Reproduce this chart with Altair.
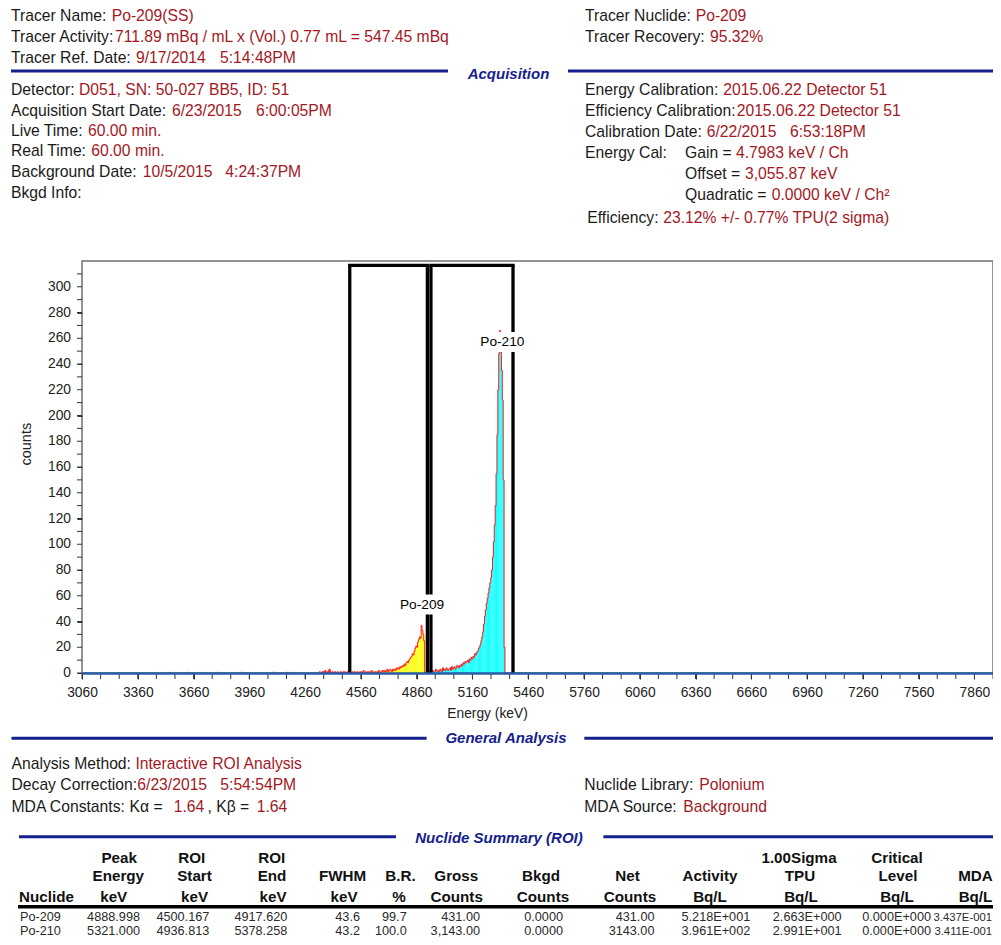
import altair as alt
import pandas as pd

GAIN = 4.7983       # keV / channel
OFFSET = 3055.87    # keV

# isolated background counts (channel, counts)
bkg_channels = [99, 120, 153, 179, 214, 216, 230, 237]
bkg_counts = [1, 1, 1, 1, 1, 1, 1, 1]

# contiguous counts, starting at channel 266
first_channel = 266
pre_roi_counts = [0, 1, 0, 0, 1, 1, 0, 2, 1, 0,
                  1, 2, 3, 1, 0, 1, 0, 0, 1, 0,
                  0, 1, 0, 0, 1, 0, 0, 1, 0, 1,
                  0, 0, 1, 0, 1]
po209_counts = [1, 0, 0, 1, 0, 1, 0, 0, 1, 0,
                0, 1, 0, 1, 0, 2, 0, 1, 1, 0,
                1, 0, 1, 0, 2, 1, 0, 1, 1, 0,
                1, 0, 2, 1, 0, 1, 2, 1, 2, 1,
                2, 1, 3, 1, 2, 3, 2, 1, 3, 2,
                3, 2, 4, 3, 4, 3, 5, 4, 5, 6,
                5, 7, 6, 8, 9, 8, 10, 11, 12, 13,
                15, 14, 17, 19, 21, 20, 24, 26, 28, 27,
                37, 33, 30, 25, 0, 0, 0, 0]
gap_counts = [1, 2, 0]
po210_counts = [2, 1, 2, 1, 1, 3, 2, 1, 2, 1,
                3, 2, 1, 4, 2, 3, 2, 4, 3, 2,
                3, 4, 2, 5, 3, 4, 5, 3, 4, 6,
                5, 4, 6, 5, 7, 6, 8, 7, 9, 8,
                9, 10, 8, 11, 10, 12, 11, 13, 12, 15,
                14, 16, 17, 19,
                20, 22, 25, 28, 32, 38, 44, 49, 54, 58,
                62, 66, 70, 74, 80, 90, 102, 115, 130, 155,
                185, 220, 248, 266, 252, 235, 212, 150, 20,
                0, 0, 0, 0, 0, 0, 0, 0, 0, 0]

# nuclide summary table
nuclides = ["Po-209", "Po-210"]
peak_energy = [4888.998, 5321.000]
roi_start = [4500.167, 4936.813]
roi_end = [4917.620, 5378.258]
fwhm = ["43.6", "43.2"]
branching = ["99.7", "100.0"]
gross_counts = ["431.00", "3,143.00"]
bkgd_counts = ["0.0000", "0.0000"]
net_counts = ["431.00", "3143.00"]
activity = ["5.218E+001", "3.961E+002"]
tpu = ["2.663E+000", "2.991E+001"]
critical = ["0.000E+000", "0.000E+000"]
mda = ["3.437E-001", "3.411E-001"]

x_labels = list(range(3060, 7861, 300))
x_minor = list(range(3060, 7961, 100))
y_labels = list(range(0, 301, 20))
y_minor = list(range(0, 311, 10))

# ---------------- layout / style ----------------
W, H = 911, 412
XMIN, XMAX, YMAX = 3060, 7960, 320
OX, OY = 82, 261                 # page position of the plot origin
PX_PER_KEV = W / (XMAX - XMIN)
PX_PER_CNT = H / YMAX
FONT = "Liberation Sans"
LBL, VAL, NAVY = "#1a1a1a", "#a3191f", "#14218c"
FS = 15.7
label_lift_px = [26, 58]

def region(e):
    for name, s, en in zip(nuclides, roi_start, roi_end):
        if s - 0.5 <= e <= en + 0.5:
            return name
    return "none"

contig = pre_roi_counts + po209_counts + gap_counts + po210_counts
rows = []
for i, c in enumerate(contig):
    k = first_channel + i
    e = OFFSET + GAIN * k
    rows.append({"ch": k, "E": e, "E2": e + GAIN, "count": c, "zero": 0, "region": region(e)})
contig_df = pd.DataFrame(rows)
brow = []
for k, c in zip(bkg_channels, bkg_counts):
    e = OFFSET + GAIN * k
    brow.append({"ch": k, "E": e, "E2": e + GAIN, "count": c, "zero": 0, "region": "none"})
bars_df = pd.concat([contig_df, pd.DataFrame(brow)])
bars_df = bars_df[bars_df["count"] > 0]

xscale = alt.Scale(domain=[XMIN, XMAX], nice=False, zero=False)
yscale = alt.Scale(domain=[0, YMAX], nice=False)

xaxis = alt.Axis(values=x_labels, format="d",
                 labelFlush=False, labelOverlap=False, grid=False,
                 tickSize=6, tickColor="#333", labelPadding=6,
                 labelFontSize=13.8, labelColor="#222", labelFont=FONT,
                 domainColor="#2a5caa", domainWidth=2.5, zindex=1,
                 title="Energy (keV)", titleFont=FONT, titleFontSize=13.8,
                 titleFontWeight="normal", titleColor="#222",
                 titleX=405, titleY=44, titleAlign="center", titleBaseline="alphabetic")
yaxis = alt.Axis(values=y_labels, labels=False, grid=False, domain=False,
                 tickSize=5, tickColor="#333",
                 title="counts", titleFont=FONT, titleFontSize=14.5,
                 titleFontWeight="normal", titleColor="#222", titleAngle=270,
                 titleX=-56, titleY=182.7, titleAlign="center", titleBaseline="middle")

bars = alt.Chart(bars_df).mark_rect().encode(
    x=alt.X("E:Q", scale=xscale, axis=xaxis),
    x2="E2:Q",
    y=alt.Y("count:Q", scale=yscale, axis=yaxis),
    y2="zero:Q",
    color=alt.Color("region:N", scale=alt.Scale(domain=["Po-209", "Po-210", "none"],
                                               range=["#ffff00", "#00ffff", "#ff0000"]), legend=None),
)
outline = alt.Chart(contig_df).mark_line(interpolate="step-after", color="#ff1a1a", strokeWidth=1).encode(
    x="E:Q", y="count:Q")

# minor ticks (every 100 keV / every 10 counts) and y tick labels
xminor = alt.Chart(pd.DataFrame({"t": x_minor})).mark_rule(color="#333", strokeWidth=1).encode(
    x="t:Q", y=alt.value(H), y2=alt.value(H + 6))
yminor = alt.Chart(pd.DataFrame({"t": y_minor})).mark_rule(color="#333", strokeWidth=1).encode(
    y="t:Q", x=alt.value(-5), x2=alt.value(0))
ylab = alt.Chart(pd.DataFrame({"t": y_labels})).mark_text(
    font=FONT, fontSize=13.8, color="#222", align="right", baseline="middle").encode(
    y="t:Q", x=alt.value(-11), text=alt.Text("t:Q", format="d"))

roi_df = pd.DataFrame({"nuclide": nuclides, "start": roi_start, "end": roi_end, "zero": [0, 0]})
edges_df = pd.DataFrame({"edge": roi_start + roi_end, "zero": [0] * 4})
roi_sides = alt.Chart(edges_df).mark_rule(color="black", strokeWidth=3.3).encode(
    x="edge:Q", y="zero:Q", y2=alt.value(4.3))
roi_tops = alt.Chart(roi_df).mark_rule(color="black", strokeWidth=3.3, strokeCap="square").encode(
    x="start:Q", x2="end:Q", y=alt.value(4.3))

lab_rows = []
for name, pe, lift in zip(nuclides, peak_energy, label_lift_px):
    ch = round((pe - OFFSET) / GAIN)
    c = contig[ch - first_channel]
    ly = c + lift / PX_PER_CNT
    hw = 24 / PX_PER_KEV
    hh = 10 / PX_PER_CNT
    lab_rows.append({"text": name, "E": pe, "ly": ly, "x1": pe - hw, "x2": pe + hw,
                     "y1": ly - hh, "y2": ly + hh})
lab_df = pd.DataFrame(lab_rows)
lab_box = alt.Chart(lab_df).mark_rect(color="white").encode(
    x="x1:Q", x2="x2:Q", y="y1:Q", y2="y2:Q")
lab_txt = alt.Chart(lab_df).mark_text(font=FONT, fontSize=13.7, color="black",
                                      baseline="middle", align="center").encode(
    x="E:Q", y="ly:Q", text="text:N")

# ---------------- page texts ----------------
info_items = [
    (11, 20.7, "Tracer Name:", LBL), (111.7, 20.7, "Po-209(SS)", VAL),
    (11, 41.7, "Tracer Activity:", LBL),
    (115, 41.7, "711.89 mBq / mL x (Vol.) 0.77 mL = 547.45 mBq", VAL),
    (11, 63, "Tracer Ref. Date:", LBL), (136, 63, "9/17/2014", VAL), (220, 63, "5:14:48PM", VAL),
    (585, 21, "Tracer Nuclide:", LBL), (695.7, 21, "Po-209", VAL),
    (585, 41.5, "Tracer Recovery:", LBL), (710, 41.5, "95.32%", VAL),
    (11, 95, "Detector:", LBL), (79, 95, "D051, SN: 50-027 BB5, ID: 51", VAL),
    (11, 115.5, "Acquisition Start Date:", LBL), (172, 115.5, "6/23/2015", VAL),
    (256, 115.5, "6:00:05PM", VAL),
    (11, 135.5, "Live Time:", LBL), (88, 135.5, "60.00 min.", VAL),
    (11, 156, "Real Time:", LBL), (91.3, 156, "60.00 min.", VAL),
    (11, 177, "Background Date:", LBL), (142.7, 177, "10/5/2015", VAL), (225.3, 177, "4:24:37PM", VAL),
    (11, 198, "Bkgd Info:", LBL),
    (585, 95, "Energy Calibration:", LBL), (723.3, 95, "2015.06.22 Detector 51", VAL),
    (585, 116, "Efficiency Calibration:", LBL), (736.7, 116, "2015.06.22 Detector 51", VAL),
    (585, 137.3, "Calibration Date:", LBL), (706.7, 137.3, "6/22/2015", VAL), (790, 137.3, "6:53:18PM", VAL),
    (585, 158.3, "Energy Cal:", LBL), (685, 158.3, "Gain =", LBL), (736, 158.3, "4.7983 keV / Ch", VAL),
    (685, 179.3, "Offset =", LBL), (745, 179.3, "3,055.87 keV", VAL),
    (685, 200, "Quadratic =", LBL), (771.7, 200, "0.0000 keV / Ch²", VAL),
    (587.3, 222.7, "Efficiency:", LBL), (663.3, 222.7, "23.12% +/- 0.77% TPU(2 sigma)", VAL),
    (11.5, 769.3, "Analysis Method:", LBL), (135.4, 769.3, "Interactive ROI Analysis", VAL),
    (11.5, 790, "Decay Correction:", LBL), (137.3, 790, "6/23/2015", VAL), (220.3, 790, "5:54:54PM", VAL),
    (11.5, 811.7, "MDA Constants:", LBL), (129.5, 811.7, "Kα =", LBL), (173.7, 811.7, "1.64", VAL),
    (207.5, 811.7, ", Kβ =", LBL), (256.7, 811.7, "1.64", VAL),
    (584.3, 790, "Nuclide Library:", LBL), (699.2, 790, "Polonium", VAL),
    (584.3, 811.7, "MDA Source:", LBL), (683.3, 811.7, "Background", VAL),
]
left_rows = [{"px": x - OX, "py": y - OY, "text": t, "color": c, "fs": FS} for x, y, t, c in info_items]
row_base = [920.5, 934.5]
for i, name in enumerate(nuclides):
    left_rows.append({"px": 20 - OX, "py": row_base[i] - OY, "text": name, "color": "#2a2a2a", "fs": 12.7})
left_df = pd.DataFrame(left_rows)

col_right = [140, 209.3, 287.3, 360, 406.7, 480, 563, 654.5, 750.3, 841.6, 931, 992]
col_fs = [12.7] * 11 + [11.3]
cols = [[f"{v:.3f}" for v in peak_energy], [f"{v:.3f}" for v in roi_start], [f"{v:.3f}" for v in roi_end],
        fwhm, branching, gross_counts, bkgd_counts, net_counts, activity, tpu, critical, mda]
right_rows = []
for xr, fs, col in zip(col_right, col_fs, cols):
    for i, v in enumerate(col):
        right_rows.append({"px": xr - OX, "py": row_base[i] - OY, "text": v, "fs": fs})
right_df = pd.DataFrame(right_rows)

hdr_items = [
    (119.2, 862.7, "Peak"), (191.7, 862.7, "ROI"), (271.7, 862.7, "ROI"), (799, 862.7, "1.00Sigma"),
    (897, 862.7, "Critical"),
    (118.3, 880.7, "Energy"), (194.5, 880.7, "Start"), (272, 880.7, "End"), (342.5, 880.7, "FWHM"),
    (400.5, 880.7, "B.R."), (456.3, 880.7, "Gross"), (541, 880.7, "Bkgd"), (627.5, 880.7, "Net"),
    (710, 880.7, "Activity"), (800, 880.7, "TPU"), (898, 880.7, "Level"), (975.5, 880.7, "MDA"),
    (46.5, 901.7, "Nuclide"), (113.7, 901.7, "keV"), (194.5, 901.7, "keV"), (273, 901.7, "keV"),
    (344, 901.7, "keV"), (399, 901.7, "%"), (456.7, 901.7, "Counts"), (543, 901.7, "Counts"),
    (630, 901.7, "Counts"), (710, 901.7, "Bq/L"), (801, 901.7, "Bq/L"), (897, 901.7, "Bq/L"),
    (975.5, 901.7, "Bq/L"),
]
hdr_df = pd.DataFrame([{"px": x - OX, "py": y - OY, "text": t} for x, y, t in hdr_items])

sec_items = [(508.5, 79, "Acquisition"), (506, 742.5, "General Analysis"), (499, 842.5, "Nuclide Summary (ROI)")]
sec_df = pd.DataFrame([{"px": x - OX, "py": y - OY, "text": t} for x, y, t in sec_items])

rule_items = [
    (11, 448, 71, NAVY, 3), (568, 1010, 71, NAVY, 3),
    (11.5, 426.6, 738.3, NAVY, 3), (584.3, 1010, 738.3, NAVY, 3),
    (19, 396, 836.7, NAVY, 3), (603.4, 1010, 836.7, NAVY, 3),
    (18, 1010, 906.7, "#000000", 3.5),
]
rule_df = pd.DataFrame([{"x1": a - OX, "x2": b - OX, "y": y - OY, "c": c, "w": w}
                        for a, b, y, c, w in rule_items])

def px(field):
    return alt.X(field, scale=None, axis=None)

def py(field):
    return alt.Y(field, scale=None, axis=None)

left_txt = alt.Chart(left_df).mark_text(font=FONT, align="left", baseline="alphabetic").encode(
    x=px("px:Q"), y=py("py:Q"), text="text:N",
    color=alt.Color("color:N", scale=None), size=alt.Size("fs:Q", scale=None))
right_txt = alt.Chart(right_df).mark_text(font=FONT, align="right", baseline="alphabetic",
                                          color="#2a2a2a").encode(
    x=px("px:Q"), y=py("py:Q"), text="text:N", size=alt.Size("fs:Q", scale=None))
hdr_txt = alt.Chart(hdr_df).mark_text(font=FONT, align="center", baseline="alphabetic",
                                      fontSize=15.2, fontWeight="bold", color="#111").encode(
    x=px("px:Q"), y=py("py:Q"), text="text:N")
sec_txt = alt.Chart(sec_df).mark_text(font=FONT, align="center", baseline="alphabetic",
                                      fontSize=15, fontWeight="bold", fontStyle="italic",
                                      color=NAVY).encode(
    x=px("px:Q"), y=py("py:Q"), text="text:N")
sep_rules = alt.Chart(rule_df).mark_rule().encode(
    x=px("x1:Q"), x2="x2:Q", y=py("y:Q"),
    color=alt.Color("c:N", scale=None), size=alt.Size("w:Q", scale=None))

chart = alt.layer(
    bars, outline, xminor, yminor, ylab, roi_sides, roi_tops, lab_box, lab_txt,
    sep_rules, left_txt, right_txt, hdr_txt, sec_txt,
).properties(
    width=W, height=H,
    padding={"left": 74, "top": 253, "right": 0, "bottom": 264},
    autosize=alt.AutoSizeParams(type="none"),
    background="white",
).configure(font=FONT).configure_view(stroke="#707070", strokeWidth=1.5)

chart.save("out.html", embed_options={"renderer": "svg", "actions": False})
